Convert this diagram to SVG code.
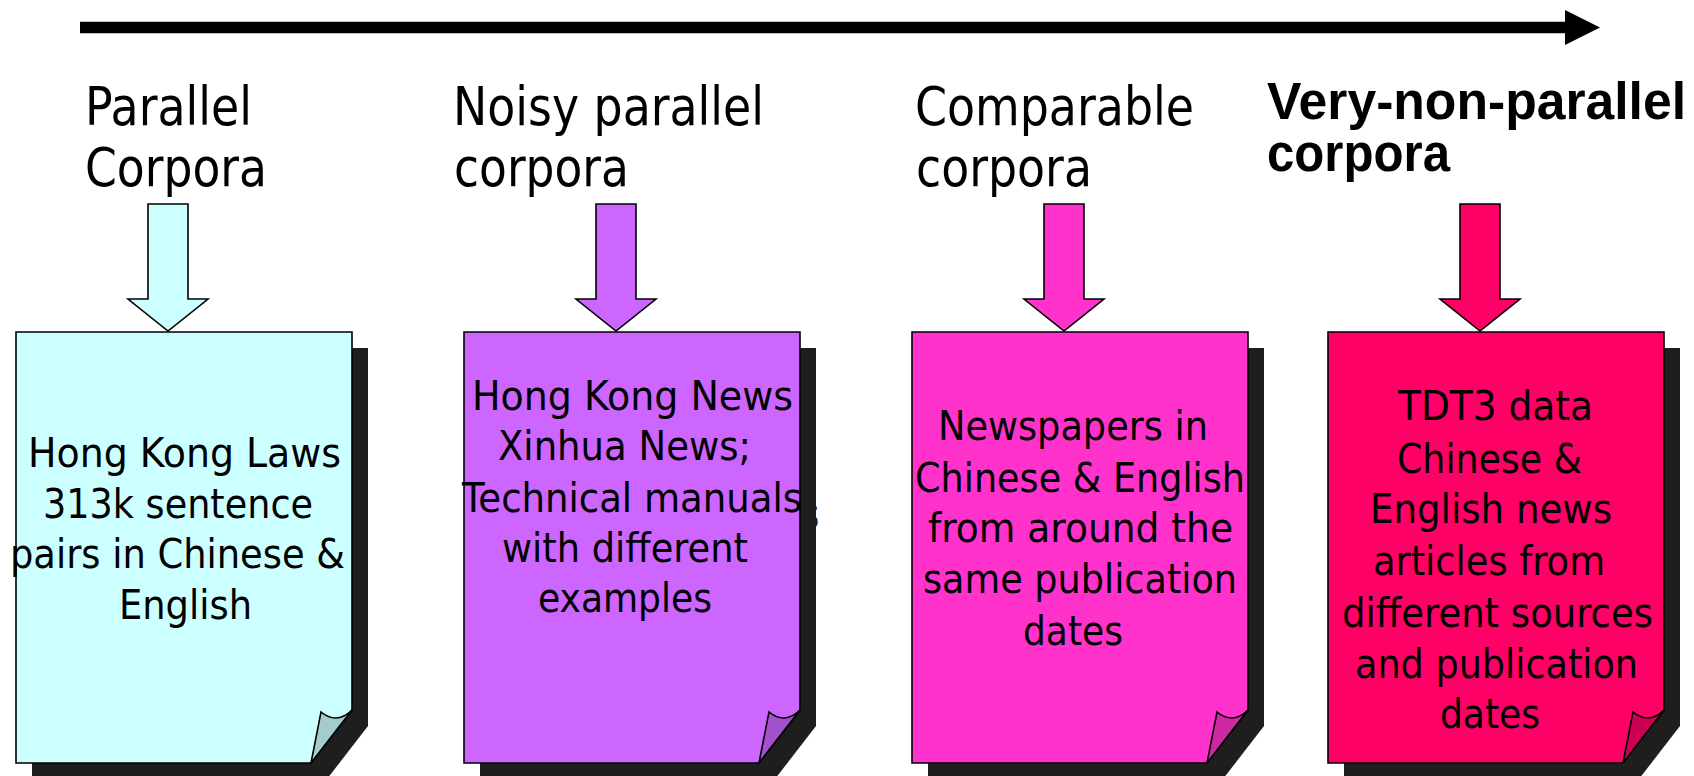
<svg xmlns="http://www.w3.org/2000/svg" width="1694" height="776" viewBox="0 0 1694 776">
  <style>
    .lbl { font-family: "DejaVu Sans", "Liberation Sans", sans-serif; font-size: 54px; fill: #000; }
    .lblb { font-family: "Liberation Sans", Arial, sans-serif; font-weight: bold; font-size: 51px; fill: #000; }
    .txt { font-family: "DejaVu Sans", "Liberation Sans", sans-serif; font-size: 40px; fill: #000; }
    .shadow { fill: #1e1e1e; }
    .edge { stroke: #000; stroke-width: 1.6; stroke-linejoin: miter; }
    .c1 { fill: #ccffff; } .f1 { fill: #a3cccc; }
    .c2 { fill: #cc66ff; } .f2 { fill: #a352cc; }
    .c3 { fill: #ff33cc; } .f3 { fill: #cc29a3; }
    .c4 { fill: #ff0066; } .f4 { fill: #cc0052; }
  </style>
  <defs>
    <!-- page with folded bottom-right corner, origin at top-left, 336 x 431 -->
    <path id="page" d="M0,0 H336 V378 L295,431 H0 Z"/>
    <path id="fold" d="M305,380 Q321,393 336,378 L295,431 Z"/>
    <!-- block arrow pointing down, origin at the tip -->
    <path id="down" d="M-20,-127 H20 V-32 H40 L0,0 L-40,-32 H-20 Z"/>
  </defs>

  <rect width="1694" height="776" fill="#fff"/>

  <!-- connectors: timeline axis and the arrows feeding each corpus page -->
  <g id="connectors">
    <path id="timeline" d="M80,21.7 H1565 V10 L1600,27.5 L1565,45 V33.3 H80 Z" fill="#000"/>
    <use href="#down" x="168" y="331" class="c1 edge"/>
    <use href="#down" x="616" y="331" class="c2 edge"/>
    <use href="#down" x="1064" y="331" class="c3 edge"/>
    <use href="#down" x="1480" y="331" class="c4 edge"/>
  </g>

  <!-- category labels -->
  <g id="label-parallel">
    <text class="lbl" x="85" y="125" textLength="167" lengthAdjust="spacingAndGlyphs">Parallel</text>
    <text class="lbl" x="85" y="186" textLength="182" lengthAdjust="spacingAndGlyphs">Corpora</text>
  </g>
  <g id="label-noisy">
    <text class="lbl" x="453" y="125" textLength="311" lengthAdjust="spacingAndGlyphs">Noisy parallel</text>
    <text class="lbl" x="454" y="186" textLength="175" lengthAdjust="spacingAndGlyphs">corpora</text>
  </g>
  <g id="label-comparable">
    <text class="lbl" x="915" y="125" textLength="279" lengthAdjust="spacingAndGlyphs">Comparable</text>
    <text class="lbl" x="916" y="186" textLength="176" lengthAdjust="spacingAndGlyphs">corpora</text>
  </g>
  <g id="label-very-non-parallel">
    <text class="lblb" x="1267" y="119" textLength="419" lengthAdjust="spacingAndGlyphs">Very-non-parallel</text>
    <text class="lblb" x="1267" y="171" textLength="183" lengthAdjust="spacingAndGlyphs">corpora</text>
  </g>

  <!-- page 1 -->
  <g id="page-parallel">
    <use href="#page" x="32" y="348" class="shadow"/>
    <use href="#page" x="16" y="332" class="c1 edge"/>
    <use href="#fold" x="16" y="332" class="f1 edge"/>
    <text class="txt" x="28" y="467" textLength="313" lengthAdjust="spacingAndGlyphs">Hong Kong Laws</text>
    <text class="txt" x="43" y="518" textLength="270" lengthAdjust="spacingAndGlyphs">313k sentence</text>
    <text class="txt" x="10" y="568" textLength="335" lengthAdjust="spacingAndGlyphs">pairs in Chinese &amp;</text>
    <text class="txt" x="119" y="619" textLength="133" lengthAdjust="spacingAndGlyphs">English</text>
  </g>

  <!-- page 2 -->
  <g id="page-noisy">
    <use href="#page" x="480" y="348" class="shadow"/>
    <text class="txt shadow" x="804" y="528" textLength="15" lengthAdjust="spacingAndGlyphs">s</text>
    <use href="#page" x="464" y="332" class="c2 edge"/>
    <use href="#fold" x="464" y="332" class="f2 edge"/>
    <text class="txt" x="472" y="410" textLength="321" lengthAdjust="spacingAndGlyphs">Hong Kong News</text>
    <text class="txt" x="498" y="460" textLength="253" lengthAdjust="spacingAndGlyphs">Xinhua News;</text>
    <text class="txt" x="462" y="512" textLength="340" lengthAdjust="spacingAndGlyphs">Technical manuals</text>
    <text class="txt" x="502" y="562" textLength="246" lengthAdjust="spacingAndGlyphs">with different</text>
    <text class="txt" x="538" y="612" textLength="174" lengthAdjust="spacingAndGlyphs">examples</text>
  </g>

  <!-- page 3 -->
  <g id="page-comparable">
    <use href="#page" x="928" y="348" class="shadow"/>
    <use href="#page" x="912" y="332" class="c3 edge"/>
    <use href="#fold" x="912" y="332" class="f3 edge"/>
    <text class="txt" x="938" y="440" textLength="270" lengthAdjust="spacingAndGlyphs">Newspapers in</text>
    <text class="txt" x="915" y="492" textLength="330" lengthAdjust="spacingAndGlyphs">Chinese &amp; English</text>
    <text class="txt" x="928" y="542" textLength="305" lengthAdjust="spacingAndGlyphs">from around the</text>
    <text class="txt" x="923" y="593" textLength="314" lengthAdjust="spacingAndGlyphs">same publication</text>
    <text class="txt" x="1023" y="645" textLength="100" lengthAdjust="spacingAndGlyphs">dates</text>
  </g>

  <!-- page 4 -->
  <g id="page-very-non-parallel">
    <use href="#page" x="1344" y="348" class="shadow"/>
    <use href="#page" x="1328" y="332" class="c4 edge"/>
    <use href="#fold" x="1328" y="332" class="f4 edge"/>
    <text class="txt" x="1398" y="420" textLength="195" lengthAdjust="spacingAndGlyphs">TDT3 data</text>
    <text class="txt" x="1397" y="473" textLength="185" lengthAdjust="spacingAndGlyphs">Chinese &amp;</text>
    <text class="txt" x="1370" y="523" textLength="242" lengthAdjust="spacingAndGlyphs">English news</text>
    <text class="txt" x="1373" y="575" textLength="232" lengthAdjust="spacingAndGlyphs">articles from</text>
    <text class="txt" x="1342" y="627" textLength="311" lengthAdjust="spacingAndGlyphs">different sources</text>
    <text class="txt" x="1355" y="678" textLength="283" lengthAdjust="spacingAndGlyphs">and publication</text>
    <text class="txt" x="1440" y="728" textLength="100" lengthAdjust="spacingAndGlyphs">dates</text>
  </g>
</svg>
